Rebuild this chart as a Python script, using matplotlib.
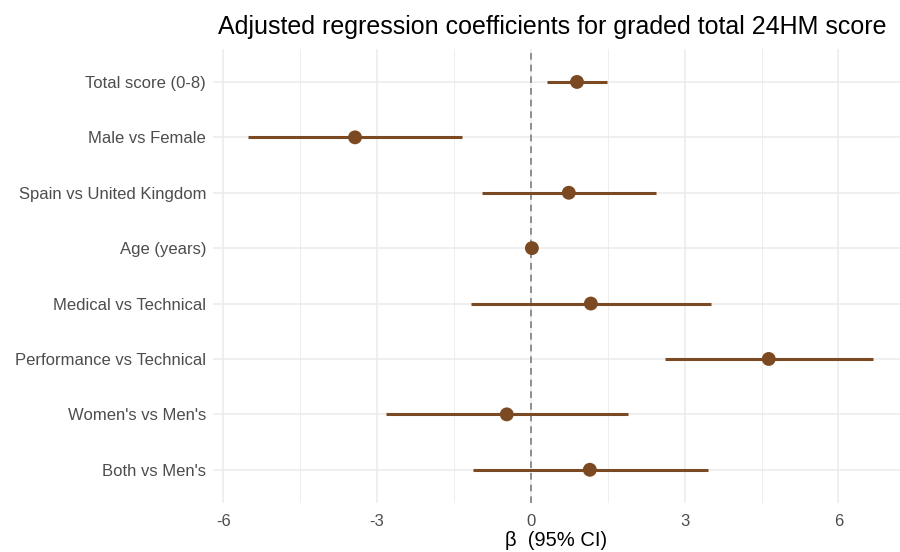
import matplotlib
matplotlib.use("Agg")
import matplotlib.pyplot as plt
import numpy as np

plt.rcParams['font.family'] = ['Liberation Sans', 'DejaVu Sans']

labels = ["Total score (0-8)", "Male vs Female", "Spain vs United Kingdom", "Age (years)",
          "Medical vs Technical", "Performance vs Technical", "Women's vs Men's", "Both vs Men's"]
beta = [0.90, -3.43, 0.74, 0.02, 1.17, 4.64, -0.47, 1.15]
lower = [0.31, -5.52, -0.96, -0.01, -1.17, 2.61, -2.83, -1.13]
upper = [1.48, -1.35, 2.44, 0.05, 3.51, 6.67, 1.89, 3.45]
xticks = [-6, -3, 0, 3, 6]

color = "#7b4a22"

fig = plt.figure(figsize=(9, 5.52), dpi=100)
ax = fig.add_axes([213/900, 49/552, 687/900, (503-48.7)/552])

n = len(labels)
ypos = np.arange(n)[::-1]

ax.set_xlim(-6.2, 7.2)
ax.set_ylim(-0.6, n - 1 + 0.6)

ax.set_xticks(xticks)
ax.set_xticks([-4.5, -1.5, 1.5, 4.5], minor=True)
ax.set_yticks(ypos)
ax.set_yticklabels(labels)
ax.set_xticklabels([str(t) for t in xticks])

ax.grid(True, which='major', color='#ebebeb', linewidth=1.1)
ax.grid(True, which='minor', axis='x', color='#ebebeb', linewidth=0.6)
ax.set_axisbelow(True)
for s in ax.spines.values():
    s.set_visible(False)
ax.tick_params(axis='y', which='both', length=0, labelsize=12, labelcolor='#4d4d4d', pad=5)
ax.tick_params(axis='x', which='both', length=0, labelsize=12, labelcolor='#4d4d4d', pad=8)

ax.axvline(0, color='#7f7f7f', linestyle=(0, (4, 3)), linewidth=1.2, zorder=1)

ax.hlines(ypos, lower, upper, color=color, linewidth=2.2, zorder=2)
ax.scatter(beta, ypos, s=100, color=color, zorder=3, edgecolors='none')

ax.set_xlabel("β  (95% CI)", fontsize=14.5, color='black', labelpad=1.5)
fig.text(218/900, 1 - 27/552, "Adjusted regression coefficients for graded total 24HM score",
         fontsize=18, ha='left', va='center', color='black')

fig.savefig("out.png", dpi=100)
